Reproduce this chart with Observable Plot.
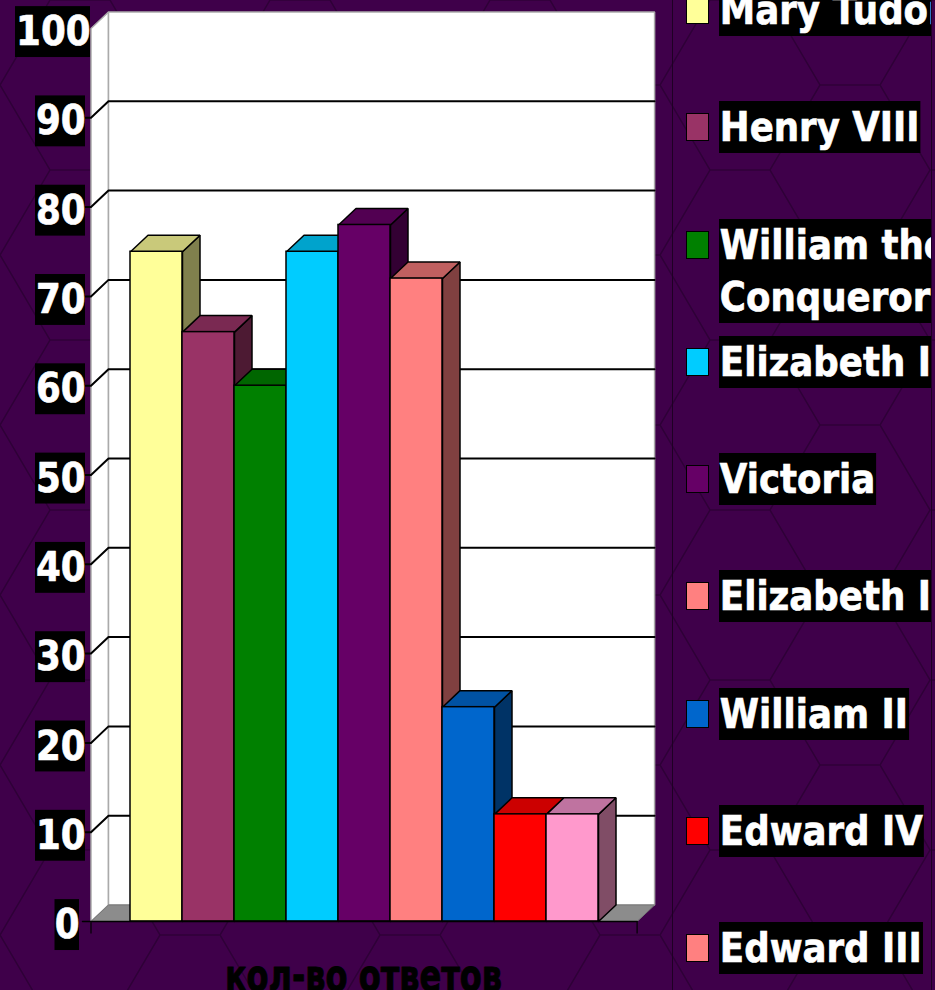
<!DOCTYPE html>
<html>
<head>
<meta charset="utf-8">
<script src="https://cdn.jsdelivr.net/npm/d3@7"></script>
<script src="https://cdn.jsdelivr.net/npm/@observablehq/plot@0.6"></script>
<style>
html,body{margin:0;padding:0;width:935px;height:990px;overflow:hidden}
body{background-color:#3f004a;background-image:url("data:image/svg+xml,%3Csvg xmlns='http://www.w3.org/2000/svg' width='220' height='170'%3E%3Cpath d='M0 85L50 0L110 0L160 85L220 85M0 85L50 170L110 170L160 85' fill='none' stroke='%232e0037' stroke-width='1.5'/%3E%3C/svg%3E");font-family:"DejaVu Sans",sans-serif}
#wrap{display:flex;width:935px;height:990px}
#chart{width:672px;height:990px;flex:none}
#chart svg{display:block;background:transparent}
#legend{width:258px;height:990px;flex:none;overflow:hidden;border-left:1px solid #1e0024;border-right:1px solid #1e0024;box-sizing:content-box}
#rows{margin-top:-16px;padding-left:13px}
.row{display:flex;align-items:flex-start;height:117.25px;white-space:pre}
.sw{width:21px;height:26px;border:1px solid #000;margin-top:12px;flex:none}
.lab{margin-left:10px;background:#000;color:#fff;font-weight:700;font-size:41px;line-height:52px;padding:0 1px;transform:scaleX(.868);transform-origin:0 0;flex:none;-webkit-text-stroke:0.7px #fff}
</style>
</head>
<body>
<div id="wrap"><div id="chart"></div><div id="legend"><div id="rows"></div></div></div>
<script>
const categories = ["Mary Tudor","Henry VIII","William the\nConqueror","Elizabeth I","Victoria","Elizabeth II","William II","Edward IV","Edward III"];
const values = [75,66,60,75,78,72,24,12,12];
const frontColors = ["#FFFF99","#993366","#008000","#00CCFF","#660066","#FF8080","#0066CC","#FF0000","#FF99CC"];
const topColors = ["#C9C97A","#7A2952","#006600","#00A3CC","#520052","#C06060","#0052A3","#CC0000","#BF73A0"];
const sideColors = ["#80804D","#4D1A33","#004000","#006680","#330033","#804040","#003366","#800000","#804D66"];
const legendColors = ["#FFFF99","#993366","#008000","#00CCFF","#660066","#FF8080","#0066CC","#FF0000","#FF8080"];
const ticks = [0,10,20,30,40,50,60,70,80,90,100];

// x scale: one unit = one bar's width; y scale: the value axis
const unit = 52, x0 = -2.5, svgW = 672, svgH = 990;
const X = p => p / unit + x0;
const depthX = 17.5 / unit, depthY = 1.85;
const left = X(90.5), right = X(636.6);
const barStart = 0;

const poly = (pts, fill) => pts.map(([x, y]) => ({x, y, fill}));
const face = (pts, fill, extra = {}) =>
  Plot.line([...poly(pts, fill), poly(pts, fill)[0]], {x: "x", y: "y", fill: "fill", curve: "linear", strokeLinejoin: "miter", ...extra});

const wallStroke = {stroke: "#aaaaaa", strokeWidth: 1.5};
const marks = [];

// walls and floor
marks.push(face([[left,0],[left+depthX,depthY],[left+depthX,100+depthY],[left,100]], "#ffffff", wallStroke));
marks.push(face([[left+depthX,depthY],[right+depthX,depthY],[right+depthX,100+depthY],[left+depthX,100+depthY]], "#ffffff", wallStroke));
marks.push(face([[left,0],[left+depthX,depthY],[right+depthX,depthY],[right,0]], "#8c8c8c", {stroke: "#777777", strokeWidth: 1}));

// gridlines, which fold along the left wall, with their tick stubs
const gridData = ticks.filter(t => t > 0 && t < 100).flatMap(t => [
  {t, x: X(85), y: t},
  {t, x: left, y: t},
  {t, x: left + depthX, y: t + depthY},
  {t, x: right + depthX, y: t + depthY}
]);
marks.push(Plot.line(gridData, {x: "x", y: "y", z: "t", stroke: "#000", strokeWidth: 2, curve: "linear"}));

// bars: side and top faces, then the front
values.forEach((v, i) => {
  const a = barStart + i, b = a + 1;
  marks.push(face([[b,0],[b+depthX,depthY],[b+depthX,v+depthY],[b,v]], sideColors[i], {stroke: "#000", strokeWidth: 1.5}));
  marks.push(face([[a,v],[a+depthX,v+depthY],[b+depthX,v+depthY],[b,v]], topColors[i], {stroke: "#000", strokeWidth: 1.5}));
  marks.push(Plot.rect([{a, b, v, fill: frontColors[i]}], {x1: "a", x2: "b", y1: 0, y2: "v", fill: "fill", stroke: "#000", strokeWidth: 1.5}));
});

// category axis
marks.push(Plot.line([{x: X(82), y: 0}, {x: right, y: 0}], {x: "x", y: "y", stroke: "#000", strokeWidth: 1.5}));
marks.push(Plot.ruleX([left, right], {y1: 0, y2: -1.4, stroke: "#000", strokeWidth: 1.2}));

// value-axis labels on black boxes
const boxRight = t => t === 100 ? 90 : t === 0 ? 79 : 85;
const boxWidth = t => t === 100 ? 75 : t === 0 ? 24.5 : 50;
const boxH = 2.85, labelShift = -0.4;
marks.push(Plot.rect(ticks, {
  x1: t => X(boxRight(t) - boxWidth(t)), x2: t => X(boxRight(t)),
  y1: t => t + labelShift - boxH, y2: t => t + labelShift + boxH, fill: "#000"
}));
marks.push(Plot.text(ticks, {
  x: t => X(boxRight(t)), y: t => t + labelShift, text: t => String(t),
  textAnchor: "end", lineAnchor: "middle", fill: "#fff", stroke: "#fff", strokeWidth: 0.7, fontWeight: 700, fontSize: 41,
  fontFamily: "DejaVu Sans", className: "squeeze"
}));

// axis title, cut by the bottom of the picture
marks.push(Plot.text(["кол-во ответов"], {
  x: X(363), y: -6.2, text: d => d, textAnchor: "middle", lineAnchor: "middle", fill: "#000", stroke: "#000", strokeWidth: 1,
  fontWeight: 700, fontSize: 44, fontFamily: "DejaVu Sans", className: "squeeze-title"
}));

const chart = Plot.plot({
  width: svgW, height: svgH, margin: 0,
  x: {type: "linear", domain: [x0, x0 + svgW / unit], range: [0, svgW], axis: null},
  y: {type: "linear", domain: [0, 100], range: [921, 28], axis: null},
  style: {background: "transparent", overflow: "hidden"},
  marks
});
const squeeze = (sel, sx) => chart.querySelectorAll(sel + " text").forEach(t => {
  t.setAttribute("transform", (t.getAttribute("transform") || "") + ` scale(${sx},1)`);
});
squeeze(".squeeze", 0.87);
squeeze(".squeeze-title", 0.728);
document.getElementById("chart").append(chart);

const rows = document.getElementById("rows");
categories.forEach((c, i) => {
  const r = document.createElement("div"); r.className = "row";
  const s = document.createElement("div"); s.className = "sw"; s.style.background = legendColors[i];
  const l = document.createElement("div"); l.className = "lab"; l.textContent = c;
  r.append(s, l); rows.append(r);
});
</script>
</body>
</html>
